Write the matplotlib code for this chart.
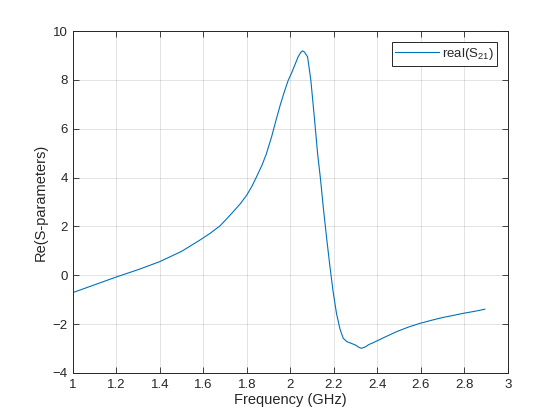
import numpy as np
import matplotlib
matplotlib.use('Agg')
import matplotlib.pyplot as plt

# values
freq_ghz = [1.00, 1.10, 1.20, 1.30, 1.40, 1.50, 1.584, 1.63, 1.676, 1.705, 1.737,
            1.77, 1.80, 1.823, 1.845, 1.87, 1.89, 1.914, 1.935, 1.955, 1.975,
            1.99, 2.005, 2.02, 2.036, 2.048, 2.056, 2.065, 2.079, 2.094, 2.11,
            2.125, 2.139, 2.151, 2.167, 2.182, 2.197, 2.212, 2.228, 2.243, 2.26,
            2.281, 2.30, 2.315, 2.327, 2.345, 2.36, 2.381, 2.43, 2.488, 2.54,
            2.595, 2.65, 2.70, 2.75, 2.794, 2.85, 2.894]
s21_real = [-0.71, -0.39, -0.07, 0.23, 0.56, 0.98, 1.44, 1.71, 2.02, 2.29, 2.60,
            2.93, 3.29, 3.64, 4.04, 4.52, 4.98, 5.68, 6.38, 7.02, 7.59,
            7.98, 8.27, 8.60, 8.95, 9.13, 9.19, 9.14, 8.95, 8.00, 6.49,
            5.00, 3.90, 2.81, 1.50, 0.35, -0.70, -1.56, -2.20, -2.58, -2.72,
            -2.79, -2.86, -2.95, -2.99, -2.93, -2.84, -2.76, -2.55, -2.31, -2.13,
            -1.97, -1.84, -1.73, -1.64, -1.56, -1.47, -1.39]

x_ticks = [1, 1.2, 1.4, 1.6, 1.8, 2, 2.2, 2.4, 2.6, 2.8, 3]
x_labels = ['1', '1.2', '1.4', '1.6', '1.8', '2', '2.2', '2.4', '2.6', '2.8', '3']
y_ticks = [-4, -2, 0, 2, 4, 6, 8, 10]

plt.rcParams['font.family'] = ['Liberation Sans', 'DejaVu Sans']
plt.rcParams['mathtext.fontset'] = 'custom'
plt.rcParams['mathtext.rm'] = 'Liberation Sans'
axcol = '#262626'

fig = plt.figure(figsize=(5.6, 4.2), dpi=100)
ax = fig.add_axes([0.13, 0.112, 0.777, 0.814])

ax.plot(freq_ghz, s21_real, color='#0072BD', lw=0.8, label=r'real(S$_{\mathrm{21}}$)')

ax.set_xlim(1, 3)
ax.set_ylim(-4, 10)
ax.set_xticks(x_ticks)
ax.set_xticklabels(x_labels)
ax.set_yticks(y_ticks)
ax.grid(True, color='#262626', alpha=0.15, lw=0.6)
ax.tick_params(direction='in', length=4, width=0.6, colors=axcol,
               labelsize=9.5, top=True, right=True, labeltop=False, labelright=False)
ax.tick_params(axis='x', pad=4)
for s in ax.spines.values():
    s.set_color(axcol)
    s.set_linewidth(0.7)

ax.set_xlabel('Frequency (GHz)', fontsize=10.5, color=axcol, labelpad=2)
ax.set_ylabel('Re(S-parameters)', fontsize=10.5, color=axcol, labelpad=4)

leg = ax.legend(loc='upper right', fontsize=9.5, fancybox=False, handlelength=3.3,
                handletextpad=0.2, borderaxespad=0.8, borderpad=0.3,
                framealpha=1, edgecolor=axcol)
leg.get_frame().set_linewidth(0.7)
for t in leg.get_texts():
    t.set_color(axcol)

fig.savefig('out.png', dpi=100, facecolor='white')
